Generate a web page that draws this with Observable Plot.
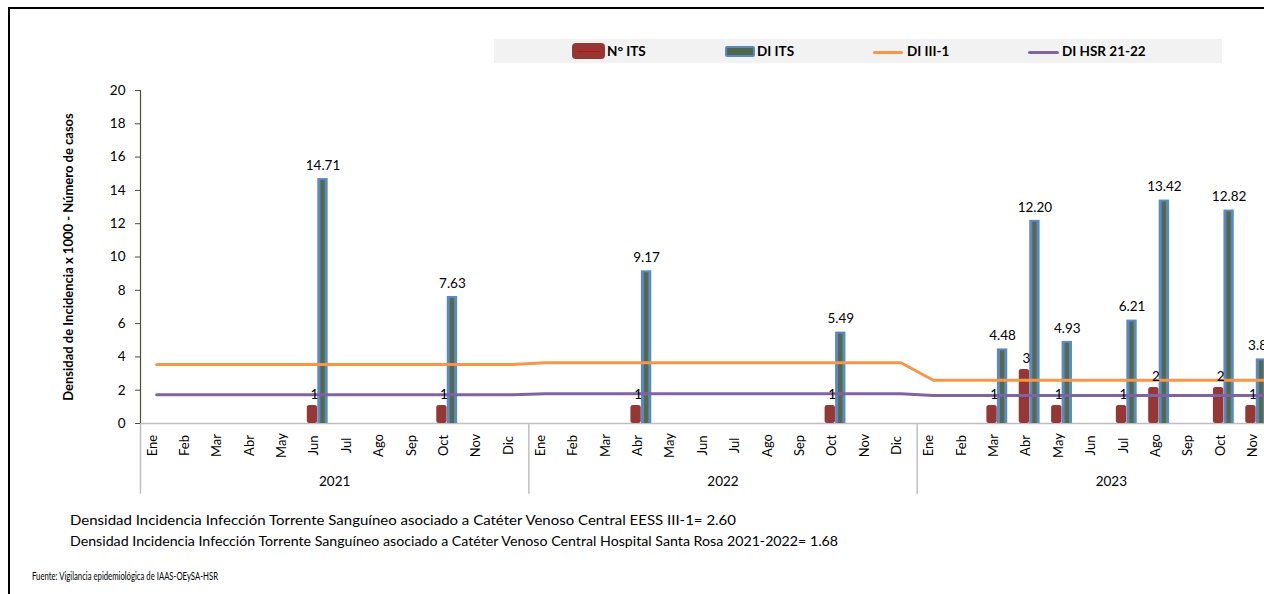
<!DOCTYPE html>
<html><head><meta charset="utf-8">
<script src="https://cdn.jsdelivr.net/npm/d3@7"></script>
<script src="https://cdn.jsdelivr.net/npm/@observablehq/plot@0.6"></script>
<style>
html,body{margin:0;padding:0;background:#fff;overflow:hidden;}
#wrap{position:relative;width:1264px;height:594px;overflow:hidden;font-family:Lato,"Open Sans",sans-serif;color:#000;}
#frame{position:absolute;left:8px;top:7px;width:1400px;height:700px;border-left:2px solid #000;border-top:2px solid #000;box-sizing:border-box;}
#legend{position:absolute;left:494px;top:39px;width:728px;height:24px;background:#f2f2f2;}
.lg{position:absolute;}
.lt{position:absolute;top:0;line-height:24px;font-weight:bold;font-size:13.5px;white-space:nowrap;}
#chart{position:absolute;left:0;top:0;width:1320px;}
#chart svg{max-width:none !important;}
#ytitle{position:absolute;left:68px;top:257px;transform:translate(-50%,-50%) rotate(-90deg);white-space:nowrap;font-weight:bold;font-size:13px;}
#foot{position:absolute;left:0;top:0;}
</style></head>
<body>
<div id="wrap">
  <div id="frame"></div>
  <div id="legend">
    <div class="lg" style="left:78px;top:4px;width:33px;height:16px;background:#953735;border-radius:4px;"><div style="position:absolute;left:5px;right:5px;top:7.5px;height:1px;background:#e00000;"></div></div>
    <div class="lt" id="lg0" style="left:113px;"></div>
    <div class="lg" style="left:231px;top:7px;width:30px;height:11px;background:#4e6850;border:2px solid #5a8ac6;box-sizing:border-box;border-radius:2px;"></div>
    <div class="lt" id="lg1" style="left:263px;"></div>
    <div class="lg" style="left:379px;top:11.5px;width:30px;height:3px;background:#f79646;border-radius:2px;"></div>
    <div class="lt" id="lg2" style="left:413px;"></div>
    <div class="lg" style="left:534px;top:11.5px;width:31px;height:3px;background:#8064a2;border-radius:2px;"></div>
    <div class="lt" id="lg3" style="left:568px;"></div>
  </div>
  <div id="ytitle"></div>
  <div id="chart"></div>
  <svg id="foot" width="1264" height="594"></svg>
</div>
<script>
// ---- data ----
const years = ["2021", "2022", "2023"];
const months = ["Ene","Feb","Mar","Abr","May","Jun","Jul","Ago","Sep","Oct","Nov","Dic"];
const diIII1ByYear = [3.55, 3.65, 2.60];   // DI III-1 reference line per year
const diHSRByYear  = [1.72, 1.78, 1.68];   // DI HSR 21-22 reference line per year
const itsMonths = ["2021-Jun","2021-Oct","2022-Abr","2022-Oct","2023-Mar","2023-Abr","2023-May","2023-Jul","2023-Ago","2023-Oct","2023-Nov"];
const nITS  = [1, 1, 1, 1, 1, 3, 1, 1, 2, 2, 1];
const diITS = [14.71, 7.63, 9.17, 5.49, 4.48, 12.20, 4.93, 6.21, 13.42, 12.82, 3.88];
const yTicks = [0, 2, 4, 6, 8, 10, 12, 14, 16, 18, 20];
const legendLabels = ["N° ITS", "DI ITS", "DI III-1", "DI HSR 21-22"];
const yTitle = "Densidad de Incidencia x 1000 - Número de casos";
const notes = [
  "Densidad Incidencia Infección Torrente Sanguíneo asociado a Catéter Venoso Central EESS III-1= 2.60",
  "Densidad Incidencia Infección Torrente Sanguíneo asociado a Catéter Venoso Central Hospital Santa Rosa 2021-2022= 1.68"
];
const source = "Fuente: Vigilancia epidemiológica de IAAS-OEySA-HSR";
const secondaryMax = 18.5; // hidden secondary axis for N° ITS (0..18.5 over the same height)

// ---- derived tables ----
const keys = years.flatMap(y => months.map(m => `${y}-${m}`));
const lineData = [];
years.forEach((y, i) => months.forEach(m => {
  lineData.push({key: `${y}-${m}`, s: "III", v: diIII1ByYear[i]});
}));
years.forEach((y, i) => months.forEach(m => {
  lineData.push({key: `${y}-${m}`, s: "HSR", v: diHSRByYear[i]});
}));
const its = itsMonths.map((k, i) => ({key: k, n: nITS[i], di: diITS[i]}));
const nToY = d3.scaleLinear().domain([0, secondaryMax]).range([0, 20]);

legendLabels.forEach((t, i) => document.getElementById("lg" + i).textContent = t);
document.getElementById("ytitle").textContent = yTitle;

const W = 1320, ML = 140, MR = 15;
const bw = (W - ML - MR) / keys.length;

const chart = Plot.plot({
  width: W, height: 500,
  marginLeft: ML, marginRight: MR, marginTop: 90, marginBottom: 77,
  style: {fontFamily: "Lato, sans-serif", fontSize: "13px", background: "transparent", overflow: "visible", color: "#000", maxWidth: "none"},
  x: {domain: keys, padding: 0, round: false, axis: null},
  y: {domain: [0, 20], axis: null},
  marks: [
    Plot.ruleY([0], {stroke: "#bfbfbf", strokeWidth: 1.5}),
    Plot.ruleX(years.map(y => `${y}-Ene`), {x: d => d, dx: -bw / 2, y1: 0, y2: -4.25, stroke: "#bfbfbf", strokeWidth: 1.5}),
    Plot.ruleX(["2023-Dic"], {x: d => d, dx: bw / 2, y1: 0, y2: -4.25, stroke: "#bfbfbf", strokeWidth: 1.5}),
    Plot.ruleX([keys[0]], {x: d => d, dx: -bw / 2, y1: 0, y2: 20, stroke: "#4d4d33", strokeWidth: 1.2}),
    Plot.axisY({ticks: yTicks, tickSize: 5, tickPadding: 10, stroke: "#4d4d33", fill: "#000", fontSize: 13.5, anchor: "left"}),
    Plot.text(keys, {x: d => d, text: d => d.split("-")[1], frameAnchor: "bottom", dy: 22, rotate: -90, fontSize: 13, fill: "#000"}),
    Plot.text(years, {x: d => `${d}-Jun`, text: d => d, dx: bw / 2, frameAnchor: "bottom", dy: 62, fontSize: 13.5, fill: "#000"}),
    Plot.barY(its, {x: "key", y: d => nToY(d.n), fill: "#953735", insetLeft: 5, insetRight: 17, rx: 2.5}),
    Plot.barY(its, {x: "key", y: "di", fill: "#5a8ac6", insetLeft: 15.5, insetRight: 6.5}),
    Plot.barY(its, {x: "key", y: "di", fill: "#55694d", insetLeft: 18.5, insetRight: 9.5, insetTop: 2}),
    Plot.line(lineData, {x: "key", y: "v", z: "s", stroke: d => d.s === "III" ? "#f79646" : "#8064a2", strokeWidth: 3}),
    Plot.text(its, {x: "key", y: "di", text: d => d.di.toFixed(2), dx: 4.5, dy: -13, fontSize: 13.5, fill: "#000"}),
    Plot.text(its, {x: "key", y: d => nToY(d.n), text: d => String(d.n), dx: -4, dy: -11, fontSize: 13.5, fill: "#000"})
  ]
});
chart.style.maxWidth = "none";
document.getElementById("chart").appendChild(chart);

// ---- footer notes (real text) ----
const foot = d3.select("#foot");
const noteSpecs = [
  {t: notes[0], x: 70, y: 520, w: 666, fs: 14},
  {t: notes[1], x: 70, y: 541, w: 768, fs: 14},
  {t: source, x: 32, y: 576, w: 186, fs: 10.5}
];
noteSpecs.forEach(s => {
  foot.append("text").attr("x", s.x).attr("y", s.y).attr("dy", "0.35em")
    .attr("textLength", s.w).attr("lengthAdjust", "spacingAndGlyphs")
    .style("font-family", "Lato, sans-serif").style("font-size", s.fs + "px").attr("fill", "#000")
    .text(s.t);
});
</script>
</body></html>
